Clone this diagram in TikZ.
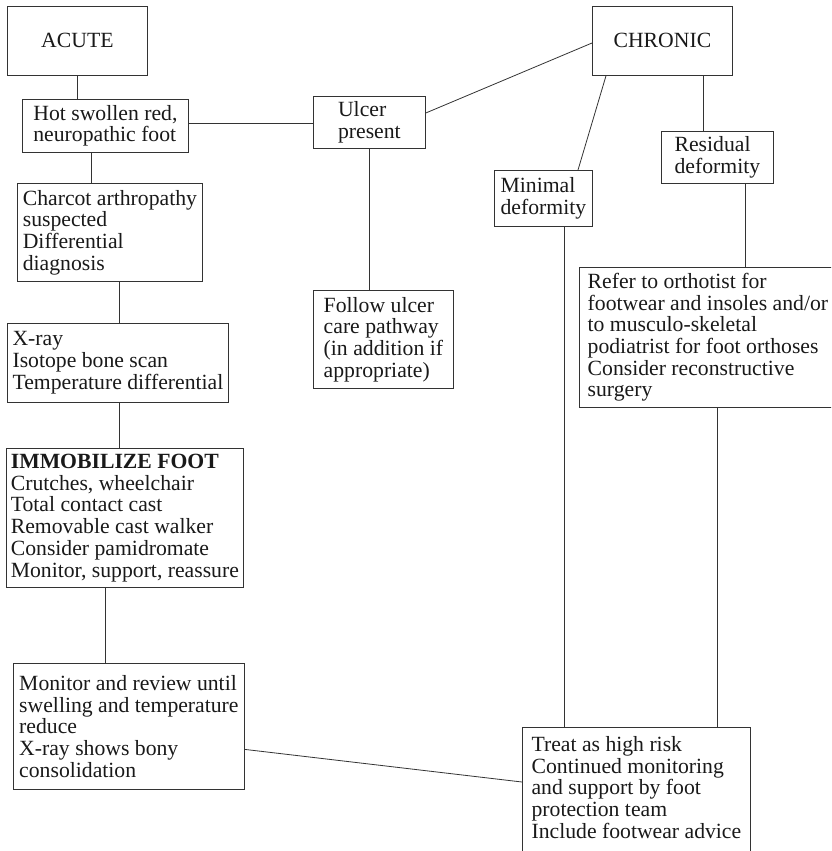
\documentclass[tikz,border=0pt]{standalone}
\usepackage{fontspec}
\setmainfont{Liberation Serif}
\usepackage{tikz}

\begin{document}
\begin{tikzpicture}[x=1pt,y=-1pt,line width=0.8pt,
    box/.style={draw=black!80,text=black!90,align=left,anchor=north west,
        inner sep=0pt,font=\fontsize{21.7}{21.7}\selectfont},
    link/.style={draw=black!80}]

\useasboundingbox (0,0) rectangle (831,851);
\clip (0,0) rectangle (831,851);

        % the acute side, down the left
        \node[box,align=center,minimum width=140,minimum height=69] (acute) at (7,6) {ACUTE};
        \node[box,minimum width=166,minimum height=53] (hot) at (22,99)
            {Hot swollen red,\\neuropathic foot};
        \node[box,minimum width=185,minimum height=98] (charcot) at (17,183)
            {Charcot arthropathy\\suspected\\Differential\\diagnosis};
        \node[box,minimum width=221,minimum height=79] (xray) at (7,323)
            {X-ray\\Isotope bone scan\\Temperature differential};
        \node[box,minimum width=237,minimum height=139] (immobilize) at (6,448)
            {\textbf{IMMOBILIZE FOOT}\\Crutches, wheelchair\\Total contact cast\\
             Removable cast walker\\Consider pamidromate\\Monitor, support, reassure};
        \node[box,minimum width=231,minimum height=126] (monitor) at (13,663)
            {Monitor and review until\\swelling and temperature\\reduce\\
             X-ray shows bony\\consolidation};

        % ulcer in the middle
        \node[box,minimum width=112,minimum height=52] (ulcer) at (313,96)
            {Ulcer\\present};
        \node[box,minimum width=140,minimum height=98] (follow) at (313,290)
            {Follow ulcer\\care pathway\\(in addition if\\appropriate)};

        % the chronic side
        \node[box,align=center,minimum width=140,minimum height=69] (chronic) at (592,6) {CHRONIC};
        \node[box,minimum width=98,minimum height=56] (minimal) at (494,170)
            {Minimal\\deformity};
        \node[box,minimum width=112,minimum height=52] (residual) at (661,131)
            {Residual\\deformity};
        \node[box,minimum width=257,minimum height=140] (refer) at (579,267)
            {Refer to orthotist for\\footwear and insoles and/or\\to musculo-skeletal\\
             podiatrist for foot orthoses\\Consider reconstructive\\surgery};
        \node[box,minimum width=228,inner ysep=9pt] (treat) at (522,727)
            {Treat as high risk\\Continued monitoring\\and support by foot\\
             protection team\\Include footwear advice\\\strut};

        % draw the links
        \draw[link] (acute.south) -- (acute.south |- hot.north);
        \draw[link] (91,0 |- hot.south) -- (91,0 |- charcot.north);
        \draw[link] (119,0 |- charcot.south) -- (119,0 |- xray.north);
        \draw[link] (119,0 |- xray.south) -- (119,0 |- immobilize.north);
        \draw[link] (105,0 |- immobilize.south) -- (105,0 |- monitor.north);
        \draw[link] ([yshift=-23pt]monitor.east) -- (522,782 -| treat.west);

        \draw[link] (hot.east |- 0,123) -- (ulcer.west |- 0,123);
        \draw[link] (ulcer.south) -- (ulcer.south |- follow.north);
        \draw[link] (ulcer.east |- 0,113) -- (chronic.west |- 0,43);

        \draw[link] (606,0 |- chronic.south) -- (578,0 |- minimal.north);
        \draw[link] (703,0 |- chronic.south) -- (703,0 |- residual.north);
        \draw[link] (745,0 |- residual.south) -- (745,0 |- refer.north);
        \draw[link] (564,0 |- minimal.south) -- (564,0 |- treat.north);
        \draw[link] (717,0 |- refer.south) -- (717,0 |- treat.north);
\end{tikzpicture}
\end{document}
